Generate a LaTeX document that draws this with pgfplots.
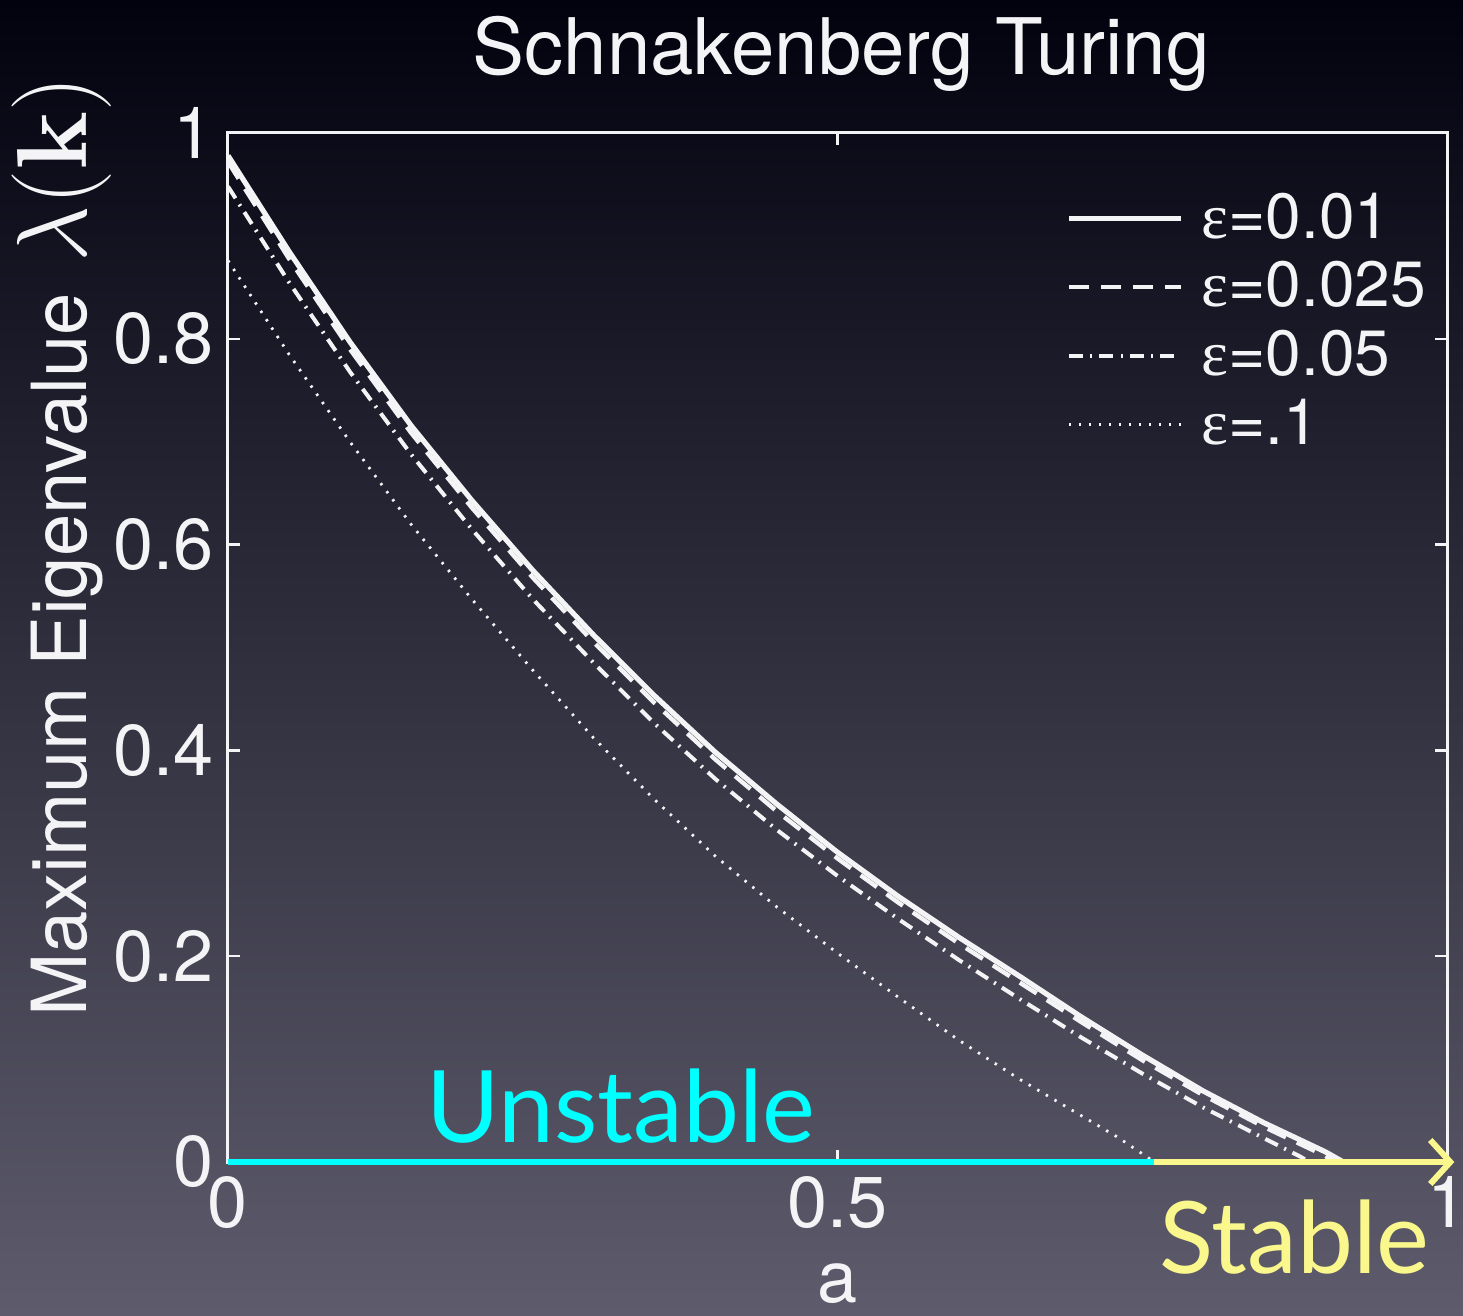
\documentclass[border=0pt]{standalone}
\usepackage{pgfplots}
\pgfplotsset{compat=1.18}
\usepackage[no-math]{fontspec}
\setmainfont{TeX Gyre Heros}
\newfontfamily\epsfont{Liberation Serif}
\newfontfamily\gillfont{Lato}
\usetikzlibrary{arrows.meta}
\definecolor{bgtop}{HTML}{02020F}
\definecolor{bgmid}{HTML}{21203C}
\definecolor{bgbot}{HTML}{5E5C6C}
\definecolor{lineW}{HTML}{F4F4F6}
\definecolor{cyanL}{HTML}{00FFFF}
\definecolor{yellowL}{HTML}{FAF78C}
\newcommand{\eps}{{\epsfont ε}}
\begin{document}
\begin{tikzpicture}
\shade[top color=bgtop, middle color=bgmid, bottom color=bgbot] (-57pt,-38.25pt) rectangle (308.75pt,290.5pt);
\begin{axis}[
  at={(0,0)}, anchor=south west,
  scale only axis, width=304.75pt, height=257.25pt,
  xmin=0, xmax=1, ymin=0, ymax=1,
  xtick={0,0.5,1}, xticklabels={0,0.5,1},
  ytick={0,0.2,0.4,0.6,0.8,1}, yticklabels={0,0.2,0.4,0.6,0.8,1},
  tick align=inside, major tick length=3pt,
  tick style={lineW, line width=0.6pt},
  axis line style={lineW, line width=0.75pt},
  ticklabel style={font=\fontsize{18}{20}\selectfont, text=lineW},
  /pgf/number format/assume math mode=true,
  clip=false,
  legend style={draw=none, fill=none, text=lineW, font=\fontsize{16}{18}\selectfont,
    at={(1.008,0.958)}, anchor=north east, row sep=0.3pt,
    nodes={inner xsep=4.5pt}},
  legend cell align=left,
  legend image code/.code={\draw[#1] (0pt,0pt) -- (28pt,0pt);},
]
\addplot[lineW, line width=1.3pt] coordinates {
(0,0.978) (0.05,0.885) (0.1,0.797) (0.15,0.716) (0.2,0.643) (0.25,0.575)
(0.3,0.512) (0.35,0.453) (0.4,0.398) (0.45,0.348) (0.5,0.301) (0.55,0.258)
(0.6,0.218) (0.65,0.180) (0.7,0.141) (0.75,0.104) (0.8,0.069) (0.85,0.038)
(0.9,0.010) (0.915,0.0)};
\addlegendentry{\eps=0.01}
\addplot[lineW, line width=1.1pt, dash pattern=on 5pt off 3pt] coordinates {
(0,0.972) (0.05,0.878) (0.1,0.790) (0.15,0.709) (0.2,0.636) (0.25,0.568)
(0.3,0.505) (0.35,0.446) (0.4,0.391) (0.45,0.341) (0.5,0.295) (0.55,0.252)
(0.6,0.212) (0.65,0.174) (0.7,0.136) (0.75,0.099) (0.8,0.065) (0.85,0.034)
(0.9,0.006) (0.908,0.0)};
\addlegendentry{\eps=0.025}
\addplot[lineW, line width=1.0pt, dash pattern=on 3.5pt off 1.8pt on 0.5pt off 1.8pt] coordinates {
(0,0.948) (0.05,0.855) (0.1,0.768) (0.15,0.688) (0.2,0.615) (0.25,0.547)
(0.3,0.485) (0.35,0.426) (0.4,0.372) (0.45,0.323) (0.5,0.278) (0.55,0.236)
(0.6,0.196) (0.65,0.158) (0.7,0.121) (0.75,0.086) (0.8,0.053) (0.85,0.023)
(0.88,0.005) (0.887,0.0)};
\addlegendentry{\eps=0.05}
\addplot[lineW, line width=0.7pt, dash pattern=on 0.6pt off 1.9pt] coordinates {
(0,0.876) (0.05,0.785) (0.1,0.700) (0.15,0.620) (0.2,0.547) (0.25,0.478)
(0.3,0.412) (0.35,0.352) (0.4,0.297) (0.45,0.248) (0.5,0.203) (0.55,0.160)
(0.6,0.118) (0.65,0.080) (0.7,0.045) (0.73,0.024) (0.76,0.0)};
\addlegendentry{\eps=.1}
\addplot[cyanL, line width=1.5pt, forget plot] coordinates {(0,0) (0.76,0)};
\addplot[yellowL, line width=1.5pt, -{Straight Barb[length=5pt,width=11pt,line width=1.5pt]}, forget plot] coordinates {(0.76,0) (1.006,0)};
\node[anchor=base, text=cyanL, font=\gillfont\fontsize{25}{28}\selectfont] at (axis cs:0.3225,0.0194) {Unstable};
\node[anchor=base, text=yellowL, font=\gillfont\fontsize{25}{28}\selectfont] at (axis cs:0.875,-0.108) {Stable};
\node[anchor=base, text=lineW, font=\fontsize{18}{20}\selectfont] at (axis cs:0.5,-0.137) {a};
\node[anchor=base, text=lineW, font=\fontsize{19.5}{22}\selectfont] at (rel axis cs:0.503,1) [yshift=14.5pt] {Schnakenberg Turing};
\node[xshift=-35.25pt, rotate=90, anchor=base, text=lineW, font=\fontsize{19}{22}\selectfont] at (rel axis cs:0,0.598) {Maximum Eigenvalue\hspace{0.4em}{\fontsize{23}{26}\selectfont$\lambda(\mathbf{k})$}};
\end{axis}
\pgfresetboundingbox
\useasboundingbox (-57pt,-38.25pt) rectangle (308.75pt,290.5pt);
\end{tikzpicture}
\end{document}
